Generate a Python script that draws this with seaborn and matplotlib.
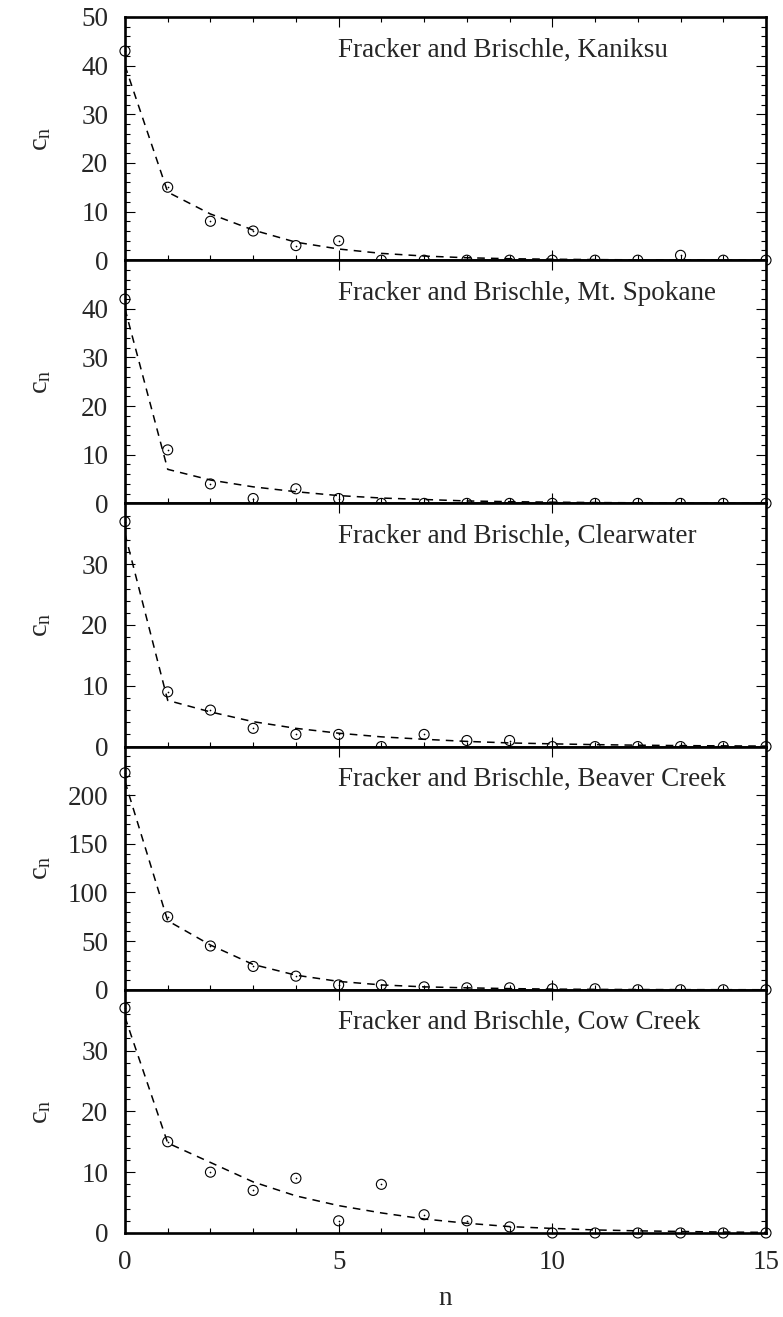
import numpy as np
import matplotlib
matplotlib.use("Agg")
import matplotlib.pyplot as plt
from matplotlib.ticker import MultipleLocator
import seaborn as sns

# data
n = list(range(16))

names = ["Kaniksu", "Mt. Spokane", "Clearwater", "Beaver Creek", "Cow Creek"]

obs_kaniksu = [43, 15, 8, 6, 3, 4, 0, 0, 0, 0, 0, 0, 0, 1, 0, 0]
fit_kaniksu = [40, 14, 9.5, 6.2, 3.7, 2.3, 1.4, 0.85, 0.5, 0.3, 0.2, 0.12, 0.07, 0.04, 0.02, 0.01]

obs_spokane = [42, 11, 4, 1, 3, 1, 0, 0, 0, 0, 0, 0, 0, 0, 0, 0]
fit_spokane = [40, 7, 4.8, 3.4, 2.4, 1.6, 1.1, 0.8, 0.5, 0.35, 0.25, 0.17, 0.12, 0.08, 0.05, 0.03]

obs_clearwater = [37, 9, 6, 3, 2, 2, 0, 2, 1, 1, 0, 0, 0, 0, 0, 0]
fit_clearwater = [35, 7.6, 5.7, 4.1, 3.0, 2.2, 1.6, 1.2, 0.85, 0.6, 0.45, 0.32, 0.23, 0.16, 0.12, 0.08]

obs_beaver = [223, 75, 45, 24, 14, 5, 5, 3, 2, 2, 1, 1, 0, 0, 0, 0]
fit_beaver = [214, 71, 46, 26, 15, 8.6, 5, 3, 2, 1.2, 0.7, 0.4, 0.25, 0.15, 0.1, 0.05]

obs_cow = [37, 15, 10, 7, 9, 2, 8, 3, 2, 1, 0, 0, 0, 0, 0, 0]
fit_cow = [35.5, 14.8, 11.6, 8.4, 6.1, 4.5, 3.3, 2.3, 1.6, 1.05, 0.75, 0.5, 0.35, 0.25, 0.15, 0.1]

observed = [obs_kaniksu, obs_spokane, obs_clearwater, obs_beaver, obs_cow]
fitted = [fit_kaniksu, fit_spokane, fit_clearwater, fit_beaver, fit_cow]

ytops = [50, 50, 40, 250, 40]
ysteps = [10, 10, 10, 50, 10]
yminor = [2, 2, 2, 10, 2]

sns.set_style("ticks")
plt.rcParams["font.family"] = ["Liberation Serif", "DejaVu Serif"]
plt.rcParams["mathtext.fontset"] = "custom"
plt.rcParams["mathtext.rm"] = "Liberation Serif"
plt.rcParams["mathtext.it"] = "Liberation Serif:italic"
fs = 19.5

fig, axes = plt.subplots(5, 1, sharex=True, figsize=(7.83, 13.17), dpi=100)
fig.subplots_adjust(left=0.1596, right=0.9783, bottom=0.0638, top=0.9871, hspace=0)

for i, ax in enumerate(axes):
    sns.lineplot(x=n, y=fitted[i], ax=ax, color="black", linewidth=1.1,
                 linestyle=(0, (5, 4)), zorder=2)
    sns.scatterplot(x=n, y=observed[i], ax=ax, marker="o", s=52,
                    facecolor="none", edgecolor="black", linewidth=0.8,
                    clip_on=False, zorder=4)
    sns.scatterplot(x=n, y=observed[i], ax=ax, marker="o", s=1.5,
                    color="black", linewidth=0, clip_on=False, zorder=4)

    ax.set_xlim(0, 15)
    ax.set_ylim(0, ytops[i])
    ax.set_xticks([0, 5, 10, 15])
    ax.xaxis.set_minor_locator(MultipleLocator(1))
    if i == 0:
        ax.set_yticks(np.arange(0, ytops[i] + 1, ysteps[i]))
    else:
        ax.set_yticks(np.arange(0, ytops[i], ysteps[i]))
    ax.yaxis.set_minor_locator(MultipleLocator(yminor[i]))
    ax.set_ylim(0, ytops[i])

    for sp in ax.spines.values():
        sp.set_visible(True)
        sp.set_linewidth(1.9)
        sp.set_color("black")

    ax.tick_params(which="both", direction="in", left=True, right=True,
                   top=True, bottom=True, width=0.8, color="black",
                   labelsize=fs, pad=12)
    ax.tick_params(which="major", length=7.2)
    ax.tick_params(which="minor", length=3.6)
    if i > 0:
        ax.tick_params(axis="x", which="minor", top=False)

    ax.set_ylabel(r"c$_\mathregular{n}$", fontsize=fs + 1)
    ax.yaxis.set_label_coords(-0.112, 0.5)
    ax.set_xlabel("")
    ax.text(0.333, 0.864, "Fracker and Brischle, " + names[i], transform=ax.transAxes,
            ha="left", va="center", fontsize=fs)

axes[-1].set_xlabel("n", fontsize=fs, labelpad=8)

plt.savefig("out.png", dpi=100)
